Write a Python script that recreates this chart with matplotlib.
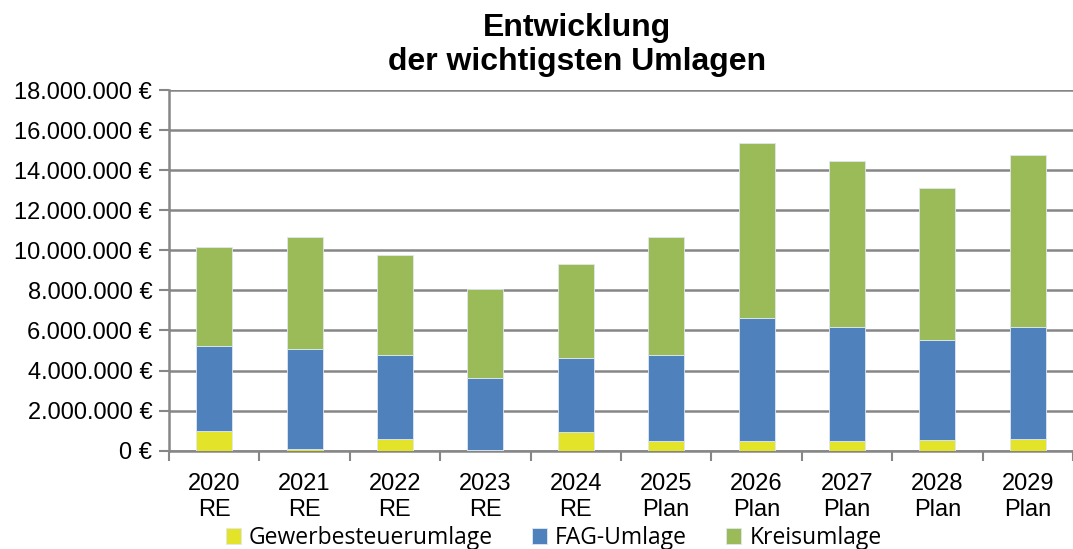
import matplotlib
matplotlib.use("Agg")
import matplotlib.pyplot as plt
from matplotlib.ticker import FuncFormatter, MultipleLocator
import numpy as np

# Werte in Euro
jahre = ["2020\nRE", "2021\nRE", "2022\nRE", "2023\nRE", "2024\nRE",
         "2025\nPlan", "2026\nPlan", "2027\nPlan", "2028\nPlan", "2029\nPlan"]
gewerbesteuerumlage = [980000, 100000, 600000, 30000, 920000,
                       500000, 470000, 500000, 550000, 600000]
fag_umlage = [4260000, 4960000, 4190000, 3610000, 3720000,
              4280000, 6170000, 5660000, 4990000, 5560000]
kreisumlage = [4920000, 5600000, 4960000, 4410000, 4660000,
               5880000, 8700000, 8300000, 7550000, 8600000]

farben = ["#E3E32A", "#4F81BD", "#9BBB59"]
namen = ["Gewerbesteuerumlage", "FAG-Umlage", "Kreisumlage"]
grau = "#868686"

plt.rcParams['font.family'] = ['Liberation Sans', 'DejaVu Sans']

fig = plt.figure(figsize=(10.73, 5.49), dpi=100)
ax = fig.add_axes([0.1575, 0.179, 0.8425, 0.657])

x = np.arange(len(jahre))
unten = np.zeros(len(jahre))
for werte, farbe, name in zip([gewerbesteuerumlage, fag_umlage, kreisumlage], farben, namen):
    ax.bar(x, werte, width=0.4, bottom=unten, color=farbe, label=name,
           edgecolor="#dfe8f0", linewidth=0.6, zorder=3)
    unten = unten + np.array(werte)

ax.set_xlim(-0.5, len(jahre) - 0.5)
ax.set_ylim(0, 18000000)
ax.yaxis.set_major_locator(MultipleLocator(2000000))

def euro(v, pos):
    if v == 0:
        return "0 €"
    return "{:,.0f} €".format(v).replace(",", ".")

ax.yaxis.set_major_formatter(FuncFormatter(euro))
ax.grid(axis="y", color=grau, linewidth=1.8, zorder=0)

ax.set_xticks(x)
ax.set_xticklabels(jahre, fontsize=17, linespacing=1.25)
ax.set_xticks(np.arange(len(jahre) + 1) - 0.5, minor=True)
ax.tick_params(axis="x", which="major", length=0, pad=16)
ax.tick_params(axis="x", which="minor", length=7, width=1.5, color=grau)
ax.tick_params(axis="y", labelsize=17, length=7, width=1.5, color=grau, pad=5)

for s in ["top", "right"]:
    ax.spines[s].set_visible(False)
for s in ["left", "bottom"]:
    ax.spines[s].set_color(grau)
    ax.spines[s].set_linewidth(1.8)

fig.text(0.538, 0.977, "Entwicklung\nder wichtigsten Umlagen", ha="center", va="top",
         fontsize=23, fontweight="bold", linespacing=1.17)

fig.legend(loc="center", bbox_to_anchor=(0.516, 0.02), ncol=3, frameon=False,
           prop={"family": "Open Sans", "size": 16.5}, handlelength=0.66, handleheight=0.66,
           handletextpad=0.35, columnspacing=1.7, borderpad=0)

fig.savefig("out.png", dpi=100)
